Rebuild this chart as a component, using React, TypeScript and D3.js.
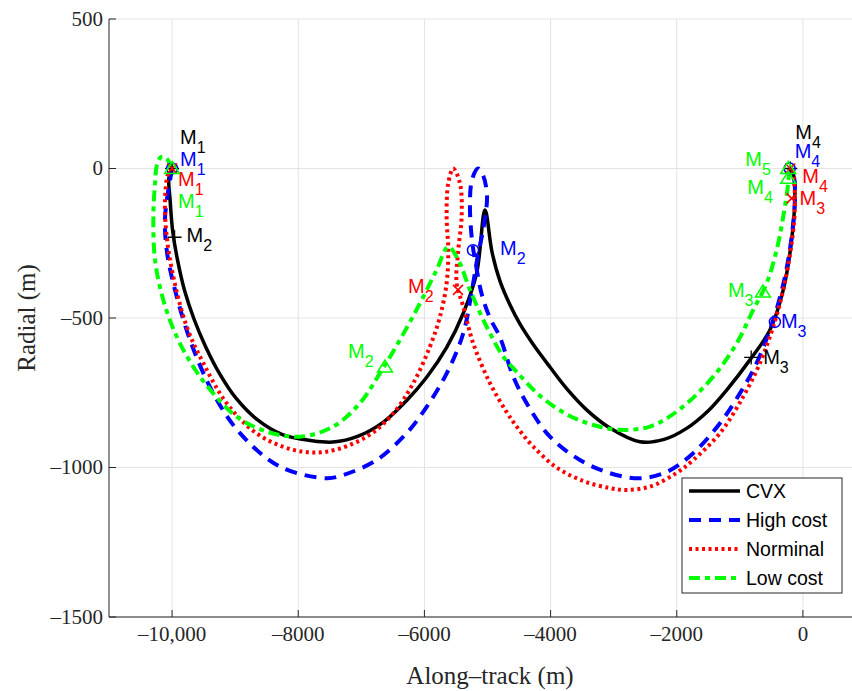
import * as d3 from "d3";

// trajectories, [along-track m, radial m]
const cvxPath: [number, number][] = [
  [-10000, 0], [-10050, -30], [-10030, -110], [-9990, -210], [-9910, -310], [-9800, -410],
  [-9650, -505], [-9470, -595], [-9250, -685], [-8980, -770], [-8650, -840], [-8250, -890],
  [-7800, -910], [-7450, -915], [-7050, -895], [-6650, -848], [-6300, -780], [-5964, -698],
  [-5647, -598], [-5384, -484], [-5172, -350], [-5040, -139], [-4929, -279], [-4803, -376],
  [-4644, -456], [-4486, -520], [-4280, -587], [-4010, -664], [-3741, -737], [-3424, -808],
  [-3059, -868], [-2584, -914], [-2200, -906], [-1850, -870], [-1500, -810], [-1209, -741],
  [-840, -640], [-523, -540], [-312, -406], [-179, -239], [-127, -83], [-150, -20], [-200, 0],
];

const highPath: [number, number][] = [
  [-10000, 0], [-10111, -161], [-10085, -273], [-9980, -384], [-9716, -573], [-9347, -752],
  [-8924, -885], [-8290, -997], [-7550, -1036], [-7286, -1025], [-6757, -975], [-6281, -885],
  [-5964, -797], [-5647, -685], [-5384, -551], [-5246, -406], [-5151, -289], [-5056, -189],
  [-5008, -89], [-5072, -22], [-5151, 0], [-5246, -38], [-5278, -122], [-5246, -239],
  [-5183, -323], [-5088, -423], [-4961, -500], [-4803, -564], [-4592, -696], [-4379, -785],
  [-4010, -897], [-3535, -975], [-3059, -1019], [-2584, -1036], [-2160, -1015], [-1739, -952],
  [-1315, -852], [-999, -752], [-734, -651], [-471, -507], [-285, -362], [-179, -228],
  [-127, -105], [-150, -20], [-210, 0],
];

const nominalPath: [number, number][] = [
  [-10000, 0], [-10060, -16], [-10112, -105], [-10085, -228], [-9980, -362], [-9768, -529],
  [-9505, -651], [-9134, -785], [-8659, -886], [-8079, -941], [-7550, -947], [-6915, -897],
  [-6494, -819], [-6177, -718], [-5913, -596], [-5754, -496], [-5648, -384], [-5622, -273],
  [-5648, -161], [-5622, -49], [-5543, 0], [-5437, -49], [-5410, -161], [-5463, -273],
  [-5489, -384], [-5384, -462], [-5226, -585], [-4961, -718], [-4696, -815], [-4513, -870],
  [-4275, -930], [-3904, -1000], [-3482, -1045], [-3059, -1069], [-2794, -1075], [-2425, -1064],
  [-2002, -1018], [-1739, -975], [-1315, -885], [-946, -763], [-682, -651], [-471, -529],
  [-312, -406], [-179, -250], [-127, -128], [-150, -30], [-200, 0],
];

const lowPath: [number, number][] = [
  [-10000, 0], [-10096, 35], [-10175, 38], [-10239, 12], [-10270, -49], [-10297, -161],
  [-10270, -306], [-10139, -440], [-9927, -562], [-9664, -663], [-9347, -752], [-8976, -830],
  [-8501, -880], [-7973, -897], [-7445, -863], [-7023, -785], [-6706, -685], [-6388, -573],
  [-6071, -451], [-5806, -339], [-5622, -262], [-5463, -306], [-5278, -406], [-5014, -529],
  [-4750, -629], [-4538, -680], [-4169, -760], [-3745, -822], [-3324, -858], [-2900, -874],
  [-2425, -863], [-1950, -805], [-1422, -696], [-1051, -585], [-788, -473], [-575, -384],
  [-417, -273], [-312, -161], [-233, -49], [-220, 0],
];

// manoeuvre points [x, y, index]
const cvxMarks: [number, number, number][] = [[-10000, 0, 1], [-9960, -230, 2], [-820, -632, 3], [-200, 0, 4]];
const highMarks: [number, number, number][] = [[-10000, 0, 1], [-5230, -273, 2], [-444, -513, 3], [-210, 0, 4]];
const nominalMarks: [number, number, number][] = [[-10000, 0, 1], [-5468, -406, 2], [-179, -100, 3], [-200, 0, 4]];
const lowMarks: [number, number, number][] = [[-10000, 0, 1], [-6625, -664, 2], [-634, -413, 3], [-233, -33, 4], [-233, 0, 5]];

// label offsets in px from each marker
const cvxLabelOff = [[8, -25], [12, 5], [12, 7], [5, -30]];
const highLabelOff = [[8, -3], [27, 5], [6, 6], [5, -11]];
const nominalLabelOff = [[6, 17], [-50, 3], [8, 7], [12, 14]];
const lowLabelOff = [[6, 39], [-37, -9], [-35, 5], [-41, 16], [-43, -3]];

const xTicks = [-10000, -8000, -6000, -4000, -2000, 0];
const xTickLabels = ["–10,000", "–8000", "–6000", "–4000", "–2000", "0"];
const yTicks = [500, 0, -500, -1000, -1500];
const yTickLabels = ["500", "0", "–500", "–1000", "–1500"];

const seriesNames = ["CVX", "High cost", "Norminal", "Low cost"];

const W = 852;
const H = 691;
const left = 109;
const top = 19;
const bottom = 617;

const x = d3.scaleLinear().domain([-11000, 1000]).range([left, 866]);
const y = d3.scaleLinear().domain([-1500, 500]).range([bottom, top]);
const line = d3
  .line<[number, number]>()
  .x((d) => x(d[0]))
  .y((d) => y(d[1]))
  .curve(d3.curveCatmullRom.alpha(0.5));

const styles = [
  { color: "#000000", width: 3.5, dash: "none", marker: "plus" },
  { color: "#0000ff", width: 4, dash: "12 8", marker: "circle" },
  { color: "#ff0000", width: 4, dash: "3 3.5", marker: "cross" },
  { color: "#00ff00", width: 4, dash: "11 5 5 5", marker: "triangle" },
];

const paths = [cvxPath, highPath, nominalPath, lowPath];
const marks = [cvxMarks, highMarks, nominalMarks, lowMarks];
const labelOffs = [cvxLabelOff, highLabelOff, nominalLabelOff, lowLabelOff];

const tickColor = "#262626";
const serif = "'Liberation Serif', 'DejaVu Serif', serif";
const sans = "'Liberation Sans', Arial, sans-serif";

function Marker({ kind, cx, cy, color }: { kind: string; cx: number; cy: number; color: string }) {
  if (kind === "plus") {
    return <path d={`M${cx - 7},${cy}H${cx + 7}M${cx},${cy - 7}V${cy + 7}`} stroke={color} strokeWidth={1.3} fill="none" />;
  }
  if (kind === "circle") {
    return <circle cx={cx} cy={cy} r={5.5} stroke={color} strokeWidth={1.5} fill="none" />;
  }
  if (kind === "cross") {
    return <path d={`M${cx - 5},${cy - 5}L${cx + 5},${cy + 5}M${cx - 5},${cy + 5}L${cx + 5},${cy - 5}`} stroke={color} strokeWidth={1.5} fill="none" />;
  }
  return <path d={`M${cx},${cy - 7}L${cx + 7.5},${cy + 5}L${cx - 7.5},${cy + 5}Z`} stroke={color} strokeWidth={1.5} fill="none" />;
}

export default function App() {
  return (
    <svg width={W} height={H} style={{ position: "absolute", left: 0, top: 0, display: "block", background: "#fff" }}>
      {/* grid */}
      {xTicks.map((t) => (
        <line key={`gx${t}`} x1={x(t)} x2={x(t)} y1={top} y2={bottom} stroke="#e3e3e3" strokeWidth={1} />
      ))}
      {yTicks.map((t) => (
        <line key={`gy${t}`} x1={left} x2={W} y1={y(t)} y2={y(t)} stroke="#e3e3e3" strokeWidth={1} />
      ))}

      {/* axes */}
      <line x1={left} x2={left} y1={top} y2={bottom} stroke={tickColor} strokeWidth={1} />
      <line x1={left} x2={W} y1={bottom} y2={bottom} stroke={tickColor} strokeWidth={1} />
      {xTicks.map((t, i) => (
        <g key={`tx${t}`}>
          <line x1={x(t)} x2={x(t)} y1={bottom} y2={bottom - 7} stroke={tickColor} />
          <text x={x(t)} y={bottom + 24} textAnchor="middle" fontFamily={serif} fontSize={21} fill={tickColor}>
            {xTickLabels[i]}
          </text>
        </g>
      ))}
      {yTicks.map((t, i) => (
        <g key={`ty${t}`}>
          <line x1={left} x2={left + 7} y1={y(t)} y2={y(t)} stroke={tickColor} />
          <text x={left - 6} y={y(t) + 6.5} textAnchor="end" fontFamily={serif} fontSize={21} fill={tickColor}>
            {yTickLabels[i]}
          </text>
        </g>
      ))}
      <text x={490} y={684} textAnchor="middle" fontFamily={serif} fontSize={25} fill={tickColor}>
        Along–track (m)
      </text>
      <text transform={`translate(35,318) rotate(-90)`} textAnchor="middle" fontFamily={serif} fontSize={25} fill={tickColor}>
        Radial (m)
      </text>

      {/* trajectories */}
      {paths.map((p, i) => (
        <path
          key={`p${i}`}
          d={line(p) || ""}
          fill="none"
          stroke={styles[i].color}
          strokeWidth={styles[i].width}
          strokeDasharray={styles[i].dash}
          strokeLinejoin="round"
        />
      ))}

      {/* markers and labels */}
      {marks.map((ms, i) =>
        ms.map((m, j) => {
          const cx = x(m[0]);
          const cy = y(m[1]);
          const off = labelOffs[i][j];
          return (
            <g key={`m${i}-${j}`}>
              <Marker kind={styles[i].marker} cx={cx} cy={cy} color={styles[i].color} />
              <text x={cx + off[0]} y={cy + off[1]} fontFamily={sans} fontSize={20} fill={styles[i].color}>
                M
                <tspan fontSize={16} dy={9}>
                  {m[2]}
                </tspan>
              </text>
            </g>
          );
        })
      )}

      {/* legend */}
      <rect x={682} y={478} width={160} height={115} fill="#fff" stroke={tickColor} strokeWidth={1} />
      {seriesNames.map((n, i) => {
        const ly = 491 + i * 29;
        return (
          <g key={n}>
            <line x1={689} x2={740} y1={ly} y2={ly} stroke={styles[i].color} strokeWidth={styles[i].width} strokeDasharray={styles[i].dash} />
            <text x={746} y={ly + 7} fontFamily={sans} fontSize={19.5} fill="#000">
              {n}
            </text>
          </g>
        );
      })}
    </svg>
  );
}
